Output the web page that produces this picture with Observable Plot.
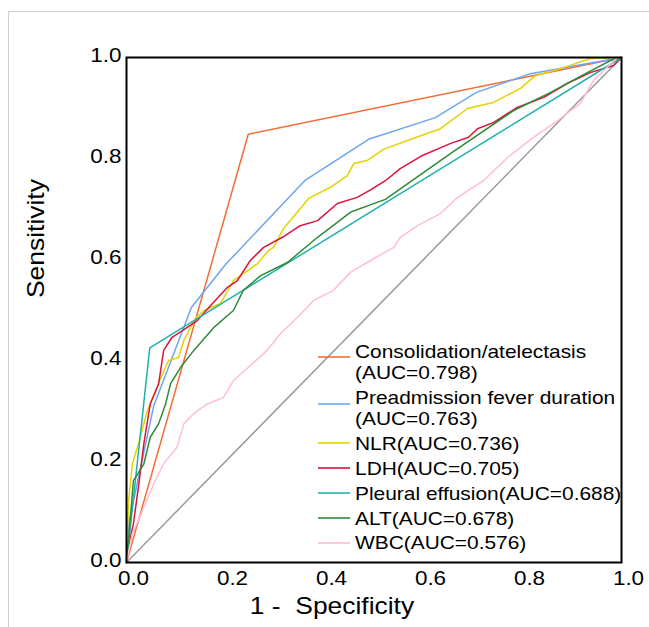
<!DOCTYPE html>
<html><head><meta charset="utf-8">
<script src="https://cdn.jsdelivr.net/npm/d3@7"></script>
<script src="https://cdn.jsdelivr.net/npm/@observablehq/plot@0.6"></script>
<style>
body{margin:0;background:#fff;}
#wrap{position:relative;width:649px;height:627px;overflow:hidden;background:#fff;}
#border{position:absolute;left:8px;top:11px;width:700px;height:700px;border-left:1px solid #cfcfcf;border-top:1px solid #cfcfcf;}
#wrap svg{position:absolute;left:0;top:0;}
svg text{white-space:pre;}
</style></head><body><div id="wrap"><div id="border"></div></div>
<script>
// ---- data (1 - specificity, sensitivity) ----
const xTicks = [0, 0.2, 0.4, 0.6, 0.8, 1.0];
const yTicks = [0, 0.2, 0.4, 0.6, 0.8, 1.0];
const diagonal = [[0,0],[1,1]];
const consolidation = [[0,0],[0.246,0.848],[1,1]];
const feverDuration = [[0,0],[0.005,0.08],[0.055,0.31],[0.131,0.505],[0.2,0.59],[0.36,0.756],[0.489,0.838],[0.624,0.881],[0.707,0.931],[0.816,0.968],[1,1]];
const nlr = [[0,0],[0.002,0.06],[0.004,0.12],[0.012,0.196],[0.022,0.228],[0.042,0.30],[0.065,0.356],[0.085,0.40],[0.105,0.406],[0.116,0.44],[0.139,0.483],[0.156,0.499],[0.19,0.513],[0.216,0.558],[0.265,0.592],[0.287,0.618],[0.297,0.624],[0.317,0.661],[0.368,0.721],[0.412,0.743],[0.446,0.766],[0.459,0.79],[0.486,0.796],[0.519,0.818],[0.58,0.84],[0.634,0.859],[0.689,0.899],[0.741,0.911],[0.796,0.939],[0.826,0.964],[0.883,0.98],[0.937,0.998],[1,1]];
const ldh = [[0,0],[0.002,0.024],[0.014,0.077],[0.025,0.156],[0.035,0.235],[0.048,0.314],[0.065,0.354],[0.075,0.42],[0.092,0.446],[0.113,0.459],[0.143,0.479],[0.17,0.509],[0.204,0.545],[0.224,0.558],[0.25,0.598],[0.277,0.624],[0.315,0.644],[0.351,0.667],[0.386,0.677],[0.426,0.711],[0.466,0.723],[0.493,0.738],[0.523,0.756],[0.553,0.78],[0.598,0.806],[0.655,0.83],[0.691,0.842],[0.709,0.859],[0.741,0.871],[0.789,0.901],[0.843,0.921],[0.891,0.949],[0.937,0.97],[0.984,0.984],[1,1]];
const pleural = [[0,0],[0.047,0.425],[1,1]];
const alt = [[0,0],[0.008,0.09],[0.014,0.162],[0.035,0.195],[0.048,0.248],[0.065,0.275],[0.079,0.314],[0.089,0.354],[0.109,0.386],[0.136,0.42],[0.176,0.465],[0.216,0.499],[0.236,0.539],[0.271,0.568],[0.325,0.594],[0.386,0.644],[0.453,0.694],[0.523,0.719],[0.655,0.81],[0.782,0.895],[0.857,0.931],[0.931,0.97],[0.978,0.994],[1,1]];
const wbc = [[0,0],[0.012,0.057],[0.035,0.109],[0.055,0.156],[0.075,0.196],[0.102,0.228],[0.116,0.275],[0.136,0.295],[0.163,0.314],[0.196,0.327],[0.216,0.36],[0.25,0.39],[0.284,0.42],[0.311,0.453],[0.345,0.485],[0.378,0.519],[0.418,0.539],[0.453,0.575],[0.5,0.602],[0.54,0.624],[0.553,0.644],[0.588,0.667],[0.634,0.691],[0.669,0.723],[0.721,0.756],[0.77,0.802],[0.822,0.842],[0.871,0.875],[0.917,0.909],[0.943,0.954],[0.964,0.974],[0.992,1.0],[1,1]];
const seriesNames = ["Consolidation/atelectasis","Preadmission fever duration","NLR","LDH","Pleural effusion","ALT","WBC"];
const aucValues = ["0.798","0.763","0.736","0.705","0.688","0.678","0.576"];
const seriesData = [consolidation, feverDuration, nlr, ldh, pleural, alt, wbc];

// ---- style ----
const colors = ["#F46D36","#6DA6EE","#E3D400","#DC143C","#20B2AA","#2E8B38","#FFBDD9"];
const FONT = "Liberation Sans, Arial, sans-serif";

const lineMarks = seriesData.map((d, i) =>
  Plot.line(d, {x: p => p[0], y: p => p[1], stroke: colors[i], strokeWidth: 1.5}));

const chart = Plot.plot({
  width: 649, height: 627,
  marginLeft: 126, marginRight: 28, marginTop: 57, marginBottom: 65,
  style: {fontFamily: FONT, fontSize: "19px", background: "transparent", color: "#000"},
  x: {domain: [0, 1]},
  y: {domain: [0, 1]},
  marks: [
    Plot.axisX({ticks: xTicks, tickSize: 0, tickPadding: 9, dx: 7, tickFormat: d => d.toFixed(1), fontSize: 19.5, label: null}),
    Plot.axisY({ticks: yTicks, tickSize: 0, tickPadding: 5, dy: -2, tickFormat: d => d.toFixed(1), fontSize: 19.5, label: null}),
    Plot.line(diagonal, {x: p => p[0], y: p => p[1], stroke: "#9A9A9A", strokeWidth: 1.5}),
    ...lineMarks,
    Plot.frame({stroke: "black", strokeWidth: 2}),
    Plot.text(["Sensitivity"], {frameAnchor: "left", dx: -90, dy: -12, rotate: -90, fontSize: 24, fill: "#000"}),
    Plot.text(["1 -  Specificity"], {frameAnchor: "bottom", dx: -42, dy: 51, fontSize: 24, fill: "#000"})
  ]
});

// ---- legend ----
const legendRows = [
  {lines: [seriesNames[0], "(AUC=" + aucValues[0] + ")"], ty: [351, 372], sy: 357},
  {lines: [seriesNames[1], "(AUC=" + aucValues[1] + ")"], ty: [397, 418], sy: 404},
  {lines: [seriesNames[2] + "(AUC=" + aucValues[2] + ")"], ty: [443], sy: 443},
  {lines: [seriesNames[3] + "(AUC=" + aucValues[3] + ")"], ty: [468], sy: 468},
  {lines: [seriesNames[4] + "(AUC=" + aucValues[4] + ")"], ty: [493], sy: 493},
  {lines: [seriesNames[5] + "(AUC=" + aucValues[5] + ")"], ty: [518], sy: 518},
  {lines: [seriesNames[6] + "(AUC=" + aucValues[6] + ")"], ty: [542], sy: 543}
];
const svg = d3.select(chart);
const lg = svg.append("g").attr("font-family", FONT).attr("font-size", 19).attr("text-anchor", "start");
legendRows.forEach((r, i) => {
  lg.append("line").attr("x1", 318).attr("x2", 350).attr("y1", r.sy).attr("y2", r.sy)
    .attr("stroke", colors[i]).attr("stroke-width", 1.6);
  r.lines.forEach((t, j) => {
    lg.append("text").attr("x", 355).attr("y", r.ty[j]).attr("dy", "0.36em")
      .attr("text-anchor", "start").attr("fill", "#000").text(t);
  });
});

document.getElementById("wrap").appendChild(chart);

// horizontal stretch like the reference rendering
chart.querySelectorAll("text").forEach(t => {
  const w = t.getComputedTextLength();
  if (w > 0) {
    const f = t.closest('[aria-label="x-axis tick label"], [aria-label="y-axis tick label"]') ? 1.15 : 1.1;
    t.setAttribute("textLength", (w * f).toFixed(1));
    t.setAttribute("lengthAdjust", "spacingAndGlyphs");
  }
});
</script>
</body></html>
